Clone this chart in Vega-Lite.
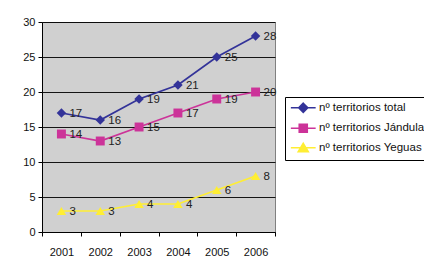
{
  "$schema": "https://vega.github.io/schema/vega-lite/v6.json",
  "width": 233,
  "height": 210,
  "padding": {"left": 22, "top": 16, "right": 0, "bottom": 5},
  "background": "white",
  "config": {
    "font": "Liberation Sans",
    "view": {"fill": "#d0d0d0", "stroke": "#808080", "strokeWidth": 1},
    "axis": {"labelFont": "Liberation Sans", "labelFontSize": 11, "labelColor": "#111", "domainColor": "#000", "tickColor": "#000", "title": null}
  },
  "data": {
    "values": [
      {"year": "2001", "s": "nº territorios total", "v": 17},
      {"year": "2002", "s": "nº territorios total", "v": 16},
      {"year": "2003", "s": "nº territorios total", "v": 19},
      {"year": "2004", "s": "nº territorios total", "v": 21},
      {"year": "2005", "s": "nº territorios total", "v": 25},
      {"year": "2006", "s": "nº territorios total", "v": 28},
      {"year": "2001", "s": "nº territorios Jándula", "v": 14},
      {"year": "2002", "s": "nº territorios Jándula", "v": 13},
      {"year": "2003", "s": "nº territorios Jándula", "v": 15},
      {"year": "2004", "s": "nº territorios Jándula", "v": 17},
      {"year": "2005", "s": "nº territorios Jándula", "v": 19},
      {"year": "2006", "s": "nº territorios Jándula", "v": 20},
      {"year": "2001", "s": "nº territorios Yeguas", "v": 3},
      {"year": "2002", "s": "nº territorios Yeguas", "v": 3},
      {"year": "2003", "s": "nº territorios Yeguas", "v": 4},
      {"year": "2004", "s": "nº territorios Yeguas", "v": 4},
      {"year": "2005", "s": "nº territorios Yeguas", "v": 6},
      {"year": "2006", "s": "nº territorios Yeguas", "v": 8}
    ]
  },
  "encoding": {
    "x": {
      "field": "year", "type": "ordinal",
      "scale": {"type": "band", "paddingInner": 0, "paddingOuter": 0},
      "axis": {"labelAngle": 0, "tickBand": "extent", "tickSize": 4, "labelPadding": 10, "domainWidth": 1}
    },
    "y": {
      "field": "v", "type": "quantitative",
      "scale": {"domain": [0, 30], "nice": false},
      "axis": {"values": [0, 5, 10, 15, 20, 25, 30], "tickSize": 4, "labelPadding": 3, "grid": true, "gridColor": "#000", "gridOpacity": 0.9, "gridWidth": 1}
    }
  },
  "layer": [
    {
      "mark": {"type": "point", "filled": true, "strokeWidth": 1.6, "opacity": 0},
      "encoding": {
        "fill": {
          "field": "s", "type": "nominal",
          "scale": {"domain": ["nº territorios total", "nº territorios Jándula", "nº territorios Yeguas"], "range": ["#333399", "#cc3399", "#ffee33"]},
          "legend": {
            "title": null, "orient": "none", "legendX": 243, "legendY": 75,
            "symbolSize": 64, "symbolStrokeWidth": 1.6, "symbolOpacity": 1, "symbolOffset": 7.5,
            "labelOffset": 10, "labelFontSize": 11.5, "labelFont": "Liberation Sans", "labelColor": "#111", "labelLimit": 300,
            "padding": 5, "rowPadding": 4.5, "strokeColor": "#000", "fillColor": "white", "cornerRadius": 0
          }
        },
        "stroke": {
          "field": "s", "type": "nominal",
          "scale": {"domain": ["nº territorios total", "nº territorios Jándula", "nº territorios Yeguas"], "range": ["#333399", "#cc3399", "#ffee33"]},
          "legend": {
            "title": null, "orient": "none", "legendX": 243, "legendY": 75,
            "symbolSize": 64, "symbolStrokeWidth": 1.6, "symbolOpacity": 1, "symbolOffset": 7.5,
            "labelOffset": 10, "labelFontSize": 11.5, "labelFont": "Liberation Sans", "labelColor": "#111", "labelLimit": 300,
            "padding": 5, "rowPadding": 4.5, "strokeColor": "#000", "fillColor": "white", "cornerRadius": 0
          }
        },
        "shape": {
          "field": "s", "type": "nominal",
          "scale": {"domain": ["nº territorios total", "nº territorios Jándula", "nº territorios Yeguas"], "range": ["M-3.1,0L3.1,0M0,-1.125L1.125,0L0,1.125L-1.125,0Z", "M-3.1,0L3.1,0M-1,-1L1,-1L1,1L-1,1Z", "M-3.1,0L3.1,0M0,-1.1L1.25,1L-1.25,1Z"]},
          "legend": {
            "title": null, "orient": "none", "legendX": 243, "legendY": 75,
            "symbolSize": 64, "symbolStrokeWidth": 1.6, "symbolOpacity": 1, "symbolOffset": 7.5,
            "labelOffset": 10, "labelFontSize": 11.5, "labelFont": "Liberation Sans", "labelColor": "#111", "labelLimit": 300,
            "padding": 5, "rowPadding": 4.5, "strokeColor": "#000", "fillColor": "white", "cornerRadius": 0
          }
        }
      }
    },
    {
      "mark": {"type": "line", "strokeWidth": 1.7},
      "encoding": {
        "color": {
          "field": "s", "type": "nominal", "legend": null,
          "scale": {"domain": ["nº territorios total", "nº territorios Jándula", "nº territorios Yeguas"], "range": ["#333399", "#cc3399", "#ffee33"]}
        }
      }
    },
    {
      "transform": [{"filter": "datum.s == 'nº territorios total'"}],
      "mark": {"type": "point", "filled": true, "opacity": 1, "shape": "diamond", "size": 90},
      "encoding": {"color": {"field": "s", "type": "nominal", "legend": null}}
    },
    {
      "transform": [{"filter": "datum.s == 'nº territorios Jándula'"}],
      "mark": {"type": "point", "filled": true, "opacity": 1, "shape": "square", "size": 80},
      "encoding": {"color": {"field": "s", "type": "nominal", "legend": null}}
    },
    {
      "transform": [{"filter": "datum.s == 'nº territorios Yeguas'"}],
      "mark": {"type": "point", "filled": true, "opacity": 1, "shape": "triangle-up", "size": 90},
      "encoding": {"color": {"field": "s", "type": "nominal", "legend": null}}
    },
    {
      "mark": {"type": "text", "align": "left", "baseline": "middle", "dx": 8, "dy": 1, "fontSize": 11.5, "color": "#222"},
      "encoding": {"text": {"field": "v", "type": "quantitative"}}
    }
  ]
}
